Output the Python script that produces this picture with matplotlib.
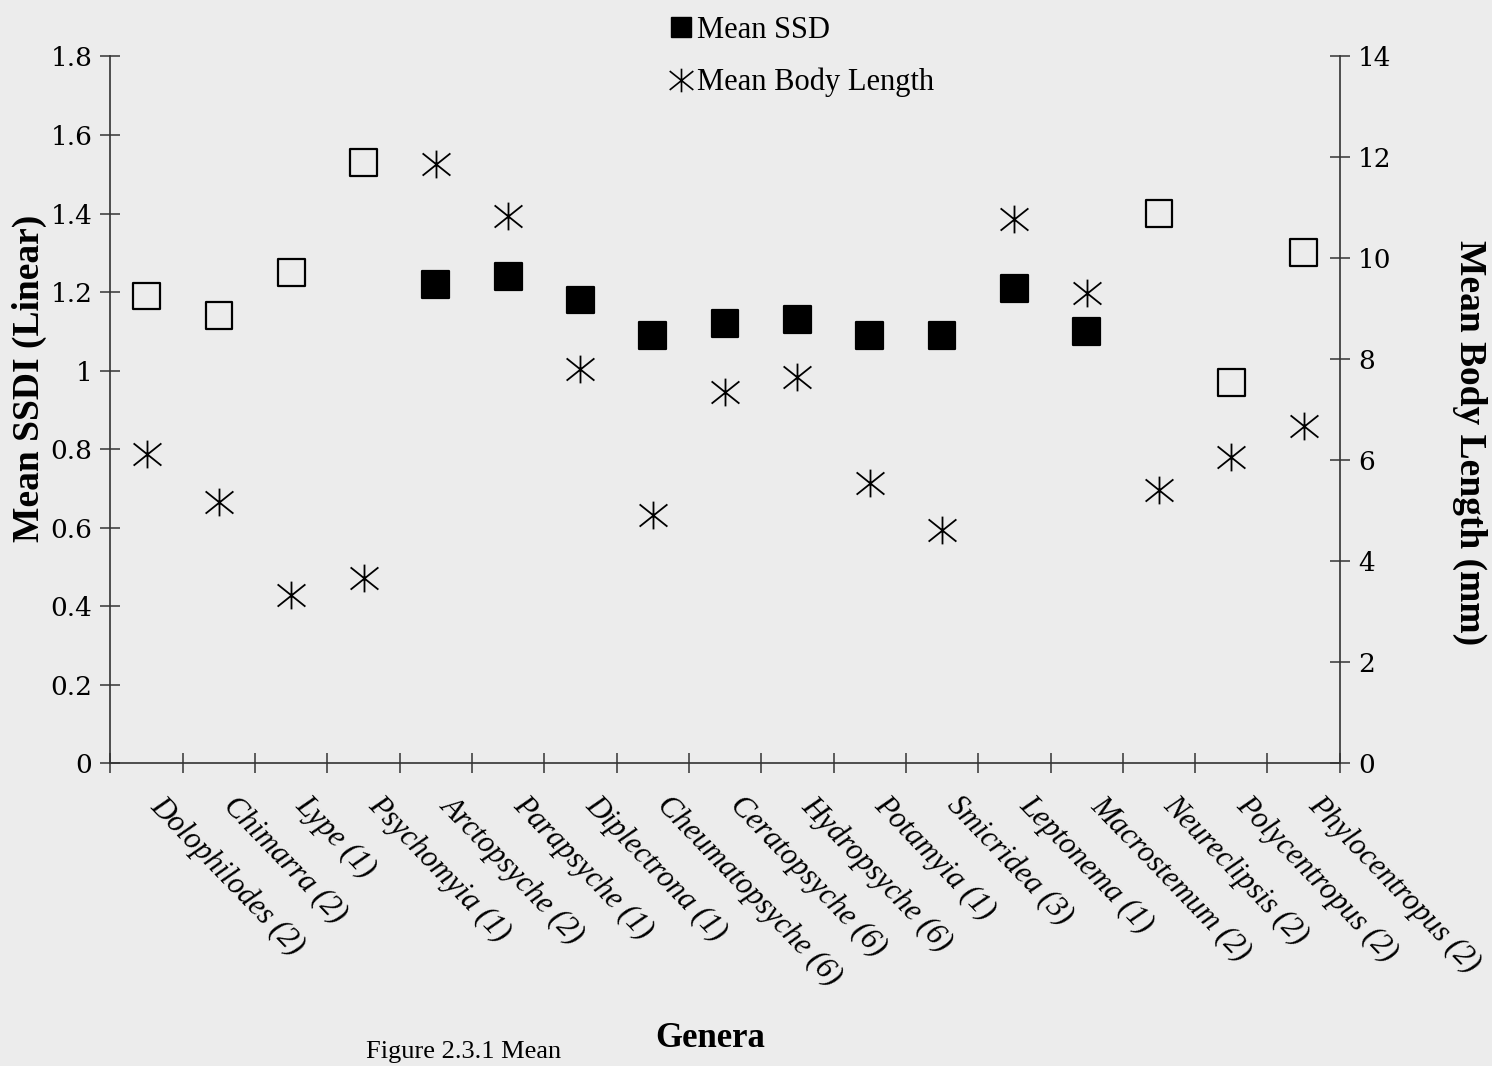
import numpy as np
import matplotlib
matplotlib.use("Agg")
import matplotlib.pyplot as plt
import matplotlib.transforms as mtransforms
from matplotlib.path import Path
from matplotlib.lines import Line2D

genera = ['Dolophilodes (2)', 'Chimarra (2)', 'Lype (1)', 'Psychomyia (1)',
          'Arctopsyche (2)', 'Parapsyche (1)', 'Diplectrona (1)',
          'Cheumatopsyche (6)', 'Ceratopsyche (6)', 'Hydropsyche (6)',
          'Potamyia (1)', 'Smicridea (3)', 'Leptonema (1)', 'Macrostemum (2)',
          'Neureclipsis (2)', 'Polycentropus (2)', 'Phylocentropus (2)']
mean_ssdi = [1.19, 1.14, 1.25, 1.53, 1.22, 1.24, 1.18, 1.09, 1.12, 1.13,
             1.09, 1.09, 1.21, 1.10, 1.40, 0.97, 1.30]
filled = [False, False, False, False, True, True, True, True, True, True,
          True, True, True, True, False, False, False]
body_length = [6.12, 5.17, 3.33, 3.67, 11.87, 10.85, 7.80, 4.92, 7.35, 7.65,
               5.56, 4.62, 10.78, 9.31, 5.41, 6.06, 6.69]

serif = 'Liberation Serif'
bg = '#ececec'

# excel style star: an X with a vertical stroke
star = Path([(-1, -0.8), (1, 0.8), (-1, 0.8), (1, -0.8), (0, -1), (0, 1)],
            [Path.MOVETO, Path.LINETO] * 3)

fig = plt.figure(figsize=(14.92, 10.66), dpi=100, facecolor=bg)
ax = fig.add_axes([0.074, 0.284, 0.824, 0.663])
ax.patch.set_visible(False)
ax2 = ax.twinx()

x = np.arange(len(genera))
faces = ['black' if f else 'none' for f in filled]
ax.scatter(x, mean_ssdi, marker='s', s=370, facecolors=faces,
           edgecolors='black', linewidths=1.6, zorder=3)
ax2.plot(x, body_length, ls='none', marker=star, ms=20, mec='black',
         mfc='none', mew=1.3, zorder=3)

ax.set_xlim(-0.5, len(genera) - 0.5)
ax.set_ylim(0, 1.8)
ax2.set_ylim(0, 14)
ax.set_yticks(np.arange(0, 1.81, 0.2))
ax.set_yticklabels(['%g' % round(v, 1) for v in np.arange(0, 1.81, 0.2)])
ax2.set_yticks(np.arange(0, 15, 2))

for s in ['top', 'right']:
    ax.spines[s].set_visible(False)
for s in ['top', 'left', 'bottom']:
    ax2.spines[s].set_visible(False)
for sp in [ax.spines['left'], ax.spines['bottom'], ax2.spines['right']]:
    sp.set_color('#333333')
    sp.set_linewidth(1.2)

ax.tick_params(axis='y', direction='inout', length=14, width=1.1,
               labelsize=19, pad=6, color='#333333')
ax2.tick_params(axis='y', direction='inout', length=14, width=1.1,
                labelsize=19, pad=6, color='#333333')
for lab in ax.get_yticklabels() + ax2.get_yticklabels():
    lab.set_family('DejaVu Serif')

# category ticks sit between the genera
ax.set_xticks(np.arange(-0.5, len(genera), 1))
ax.set_xticklabels([])
ax.tick_params(axis='x', direction='inout', length=14, width=1.1,
               color='#333333')

lab_tr = ax.get_xaxis_transform() + mtransforms.ScaledTranslation(
    14 / 72, -20 / 72, fig.dpi_scale_trans)
for i, name in enumerate(genera):
    ax.text(i, 0, name, transform=lab_tr, rotation=-46, ha='left', va='top',
            rotation_mode='anchor', fontstyle='italic', family=serif,
            fontsize=22)

fig.text(0.020, 0.645, 'Mean SSDI (Linear)', rotation=90, ha='center',
         va='center', family=serif, fontweight='bold', fontsize=27)
fig.text(0.985, 0.585, 'Mean Body Length (mm)', rotation=270, ha='center',
         va='center', family=serif, fontweight='bold', fontsize=27)
fig.text(0.476, 0.026, 'Genera', ha='center', va='center', family=serif,
         fontweight='bold', fontsize=25)
fig.text(0.245, 0.003, 'Figure 2.3.1 Mean', ha='left', va='bottom',
         family=serif, fontsize=19)

handles = [Line2D([], [], ls='none', marker='s', ms=14, mfc='black', mec='black'),
           Line2D([], [], ls='none', marker=star, ms=17, mfc='none',
                  mec='black', mew=1.2)]
fig.legend(handles, ['Mean SSD', 'Mean Body Length'], loc='upper left',
           bbox_to_anchor=(0.447, 0.988), frameon=False,
           prop={'family': serif, 'size': 22}, handlelength=0.7,
           handletextpad=0.2, labelspacing=0.75, borderaxespad=0,
           borderpad=0.1)

fig.savefig('out.png', dpi=100, facecolor=bg)
